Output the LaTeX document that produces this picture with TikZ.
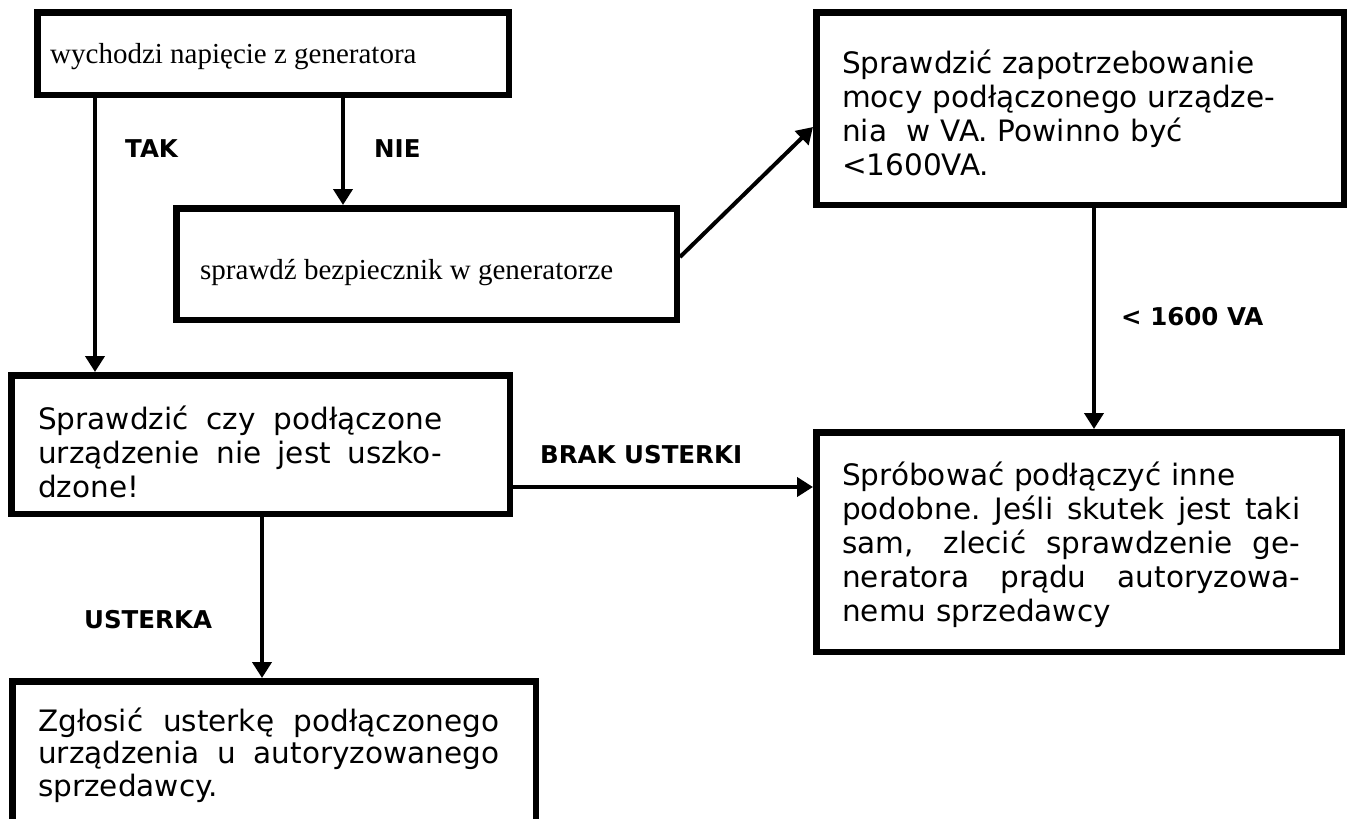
\documentclass[tikz,border=0pt]{standalone}
\usepackage{fontspec}
\setmainfont{DejaVu Sans}
\newfontfamily\timesf{Liberation Serif}
\usetikzlibrary{arrows.meta}
\tikzset{
  box/.style={draw=black, line width=6.5pt, outer sep=3.25pt, inner sep=0pt, rectangle},
  conn/.style={draw=black, line width=4pt, -{Triangle[length=16pt,width=19pt]}},
  sertext/.style={anchor=base west, inner sep=0pt, font=\timesf\fontsize{29}{34}\selectfont},
  santext/.style={anchor=base west, inner sep=0pt, text width=490pt, align=left, font=\fontsize{29.5}{34}\selectfont},
  lab/.style={anchor=base west, inner sep=0pt, font=\bfseries\fontsize{24.5}{28}\selectfont},
}
\newcommand{\jline}[2]{\makebox[#1pt][l]{#2}}
\begin{document}
\begin{tikzpicture}[x=1pt,y=-1pt]
\clip (0,0) rectangle (1350,819);
\fill[white] (0,0) rectangle (1350,819);
% boxes
\node[box, minimum width=471.5pt, minimum height=82.5pt] (b1) at (273,53.5) {};
\node[box, minimum width=500.5pt, minimum height=111.5pt] (b2) at (426.5,264) {};
\node[box, minimum width=527.5pt, minimum height=192.5pt] (b3) at (1080,108.5) {};
\node[box, minimum width=498.5pt, minimum height=138.5pt] (b4) at (260.5,444.5) {};
\node[box, minimum width=525.5pt, minimum height=219.5pt] (b5) at (1079,542) {};
\node[box, minimum width=523.5pt, minimum height=145.5pt] (b6) at (274,754) {};
% texts
\node[sertext] (t1) at (50,63) {wychodzi napięcie z generatora};
\node[sertext] (t2) at (200,279) {sprawdź bezpiecznik w generatorze};
\node[santext] (t3) at (842,73) {Sprawdzić zapotrzebowanie\\mocy podłączonego urządze-\\nia\ \ w VA. Powinno być\\<1600VA.};
\node[santext] (t4) at (38,429) {\jline{404}{Sprawdzić\hfill czy\hfill podłączone}\\\jline{404}{urządzenie\hfill nie\hfill jest\hfill uszko-}\\dzone!};
\node[santext] (t5) at (842,485) {Spróbować podłączyć inne\\\jline{458}{podobne.\hfill Jeśli\hfill skutek\hfill jest\hfill taki}\\\jline{458}{sam,\ \hfill zlecić\hfill sprawdzenie\hfill ge-}\\\jline{458}{neratora\hfill prądu\hfill autoryzowa-}\\nemu sprzedawcy};
\node[santext, font=\fontsize{29.5}{32.5}\selectfont] (t6) at (38,731) {\jline{461}{Zgłosić\hfill usterkę\hfill podłączonego}\\\jline{461}{urządzenia\hfill u\hfill autoryzowanego}\\sprzedawcy.};
% connectors
\draw[conn] ([xshift=61pt]b1.south west) -- ([xshift=61pt]b1.south west |- b4.north);
\draw[conn] ([xshift=309pt]b1.south west) -- ([xshift=309pt]b1.south west |- b2.north);
\draw[conn] ([yshift=7pt]b2.east) -- ([yshift=-18.5pt]b3.west);
\draw[conn] ([xshift=14pt]b3.south) -- ([xshift=14pt]b3.south |- b5.north);
\draw[conn] ([yshift=-42.5pt]b4.east) -- ([yshift=-42.5pt]b4.east -| b5.west);
\draw[conn] ([xshift=1.5pt]b4.south) -- ([xshift=1.5pt]b4.south |- b6.north);
% labels
\node[lab] (lt) at (125,157) {TAK};
\node[lab] (ln) at (374,157) {NIE};
\node[lab] (lv) at (1121,325) {< 1600 VA};
\node[lab] (lb) at (540,463) {BRAK USTERKI};
\node[lab] (lu) at (84,628) {USTERKA};
\end{tikzpicture}
\end{document}
